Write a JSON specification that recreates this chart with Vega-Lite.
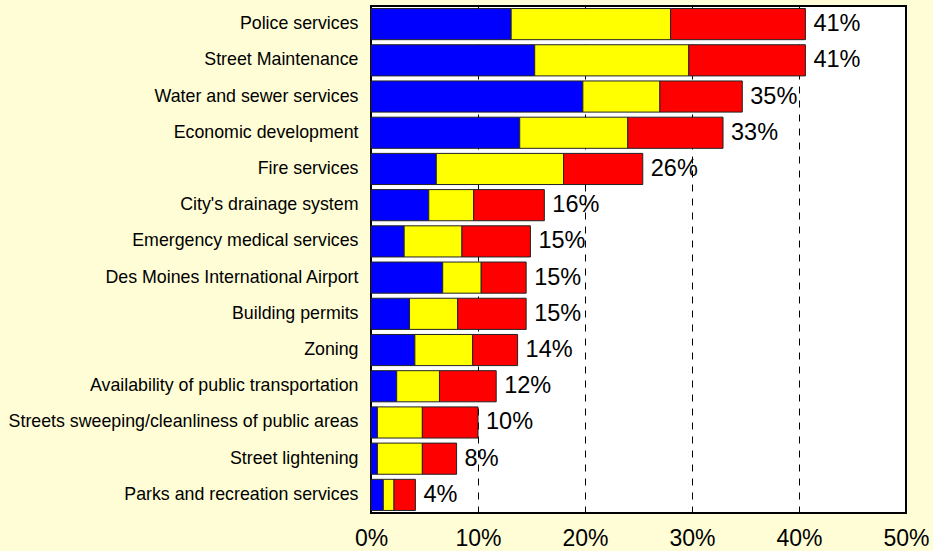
{
  "$schema": "https://vega.github.io/schema/vega-lite/v6.json",
  "autosize": "none",
  "width": 535,
  "height": 507,
  "padding": {"left": 371, "top": 6, "right": 27, "bottom": 38},
  "background": "#FFFDD6",
  "config": {
    "font": "Liberation Sans",
    "view": {"stroke": "#000000", "strokeWidth": 2, "fill": "#FFFFFF"}
  },
  "data": {
    "values": [
      {"item": "Police services", "series": "A", "order": 1, "value": 13.1, "label": "41%"},
      {"item": "Police services", "series": "B", "order": 2, "value": 14.9, "label": "41%"},
      {"item": "Police services", "series": "C", "order": 3, "value": 12.6, "label": "41%"},
      {"item": "Street Maintenance", "series": "A", "order": 1, "value": 15.3, "label": "41%"},
      {"item": "Street Maintenance", "series": "B", "order": 2, "value": 14.4, "label": "41%"},
      {"item": "Street Maintenance", "series": "C", "order": 3, "value": 10.9, "label": "41%"},
      {"item": "Water and sewer services", "series": "A", "order": 1, "value": 19.8, "label": "35%"},
      {"item": "Water and sewer services", "series": "B", "order": 2, "value": 7.2, "label": "35%"},
      {"item": "Water and sewer services", "series": "C", "order": 3, "value": 7.7, "label": "35%"},
      {"item": "Economic development", "series": "A", "order": 1, "value": 13.9, "label": "33%"},
      {"item": "Economic development", "series": "B", "order": 2, "value": 10.1, "label": "33%"},
      {"item": "Economic development", "series": "C", "order": 3, "value": 8.9, "label": "33%"},
      {"item": "Fire services", "series": "A", "order": 1, "value": 6.1, "label": "26%"},
      {"item": "Fire services", "series": "B", "order": 2, "value": 11.9, "label": "26%"},
      {"item": "Fire services", "series": "C", "order": 3, "value": 7.4, "label": "26%"},
      {"item": "City's drainage system", "series": "A", "order": 1, "value": 5.4, "label": "16%"},
      {"item": "City's drainage system", "series": "B", "order": 2, "value": 4.2, "label": "16%"},
      {"item": "City's drainage system", "series": "C", "order": 3, "value": 6.6, "label": "16%"},
      {"item": "Emergency medical services", "series": "A", "order": 1, "value": 3.1, "label": "15%"},
      {"item": "Emergency medical services", "series": "B", "order": 2, "value": 5.4, "label": "15%"},
      {"item": "Emergency medical services", "series": "C", "order": 3, "value": 6.4, "label": "15%"},
      {"item": "Des Moines International Airport", "series": "A", "order": 1, "value": 6.7, "label": "15%"},
      {"item": "Des Moines International Airport", "series": "B", "order": 2, "value": 3.6, "label": "15%"},
      {"item": "Des Moines International Airport", "series": "C", "order": 3, "value": 4.2, "label": "15%"},
      {"item": "Building permits", "series": "A", "order": 1, "value": 3.6, "label": "15%"},
      {"item": "Building permits", "series": "B", "order": 2, "value": 4.5, "label": "15%"},
      {"item": "Building permits", "series": "C", "order": 3, "value": 6.4, "label": "15%"},
      {"item": "Zoning", "series": "A", "order": 1, "value": 4.1, "label": "14%"},
      {"item": "Zoning", "series": "B", "order": 2, "value": 5.4, "label": "14%"},
      {"item": "Zoning", "series": "C", "order": 3, "value": 4.2, "label": "14%"},
      {"item": "Availability of public transportation", "series": "A", "order": 1, "value": 2.4, "label": "12%"},
      {"item": "Availability of public transportation", "series": "B", "order": 2, "value": 4.0, "label": "12%"},
      {"item": "Availability of public transportation", "series": "C", "order": 3, "value": 5.3, "label": "12%"},
      {"item": "Streets sweeping/cleanliness of public areas", "series": "A", "order": 1, "value": 0.6, "label": "10%"},
      {"item": "Streets sweeping/cleanliness of public areas", "series": "B", "order": 2, "value": 4.2, "label": "10%"},
      {"item": "Streets sweeping/cleanliness of public areas", "series": "C", "order": 3, "value": 5.2, "label": "10%"},
      {"item": "Street lightening", "series": "A", "order": 1, "value": 0.6, "label": "8%"},
      {"item": "Street lightening", "series": "B", "order": 2, "value": 4.2, "label": "8%"},
      {"item": "Street lightening", "series": "C", "order": 3, "value": 3.2, "label": "8%"},
      {"item": "Parks and recreation services", "series": "A", "order": 1, "value": 1.15, "label": "4%"},
      {"item": "Parks and recreation services", "series": "B", "order": 2, "value": 1.0, "label": "4%"},
      {"item": "Parks and recreation services", "series": "C", "order": 3, "value": 2.0, "label": "4%"}
    ]
  },
  "encoding": {
    "y": {
      "field": "item",
      "type": "nominal",
      "sort": null,
      "title": null,
      "scale": {"paddingInner": 0.14, "paddingOuter": 0.07},
      "axis": {
        "domain": false,
        "ticks": false,
        "labelPadding": 13,
        "labelFontSize": 17.8,
        "labelColor": "#000000",
        "labelLimit": 400
      }
    }
  },
  "layer": [
    {
      "mark": {"type": "bar", "stroke": "#222222", "strokeWidth": 1},
      "encoding": {
        "x": {
          "field": "value",
          "type": "quantitative",
          "stack": "zero",
          "title": null,
          "scale": {"domain": [0, 50], "nice": false},
          "axis": {
            "values": [0, 10, 20, 30, 40, 50],
            "labelExpr": "datum.value + '%'",
            "domain": false,
            "ticks": false,
            "labelPadding": 14,
            "labelFontSize": 23,
            "labelColor": "#000000",
            "labelFlush": false,
            "grid": true,
            "gridColor": "#000000",
            "gridDash": [7, 7],
            "gridWidth": 1
          }
        },
        "color": {
          "field": "series",
          "type": "nominal",
          "scale": {"domain": ["A", "B", "C"], "range": ["#0000FF", "#FFFF00", "#FF0000"]},
          "legend": null
        },
        "order": {"field": "order"}
      }
    },
    {
      "mark": {"type": "text", "align": "left", "baseline": "middle", "dx": 8, "fontSize": 23.5, "color": "#000000"},
      "encoding": {
        "x": {"aggregate": "sum", "field": "value", "type": "quantitative"},
        "text": {"field": "label"}
      }
    }
  ]
}
